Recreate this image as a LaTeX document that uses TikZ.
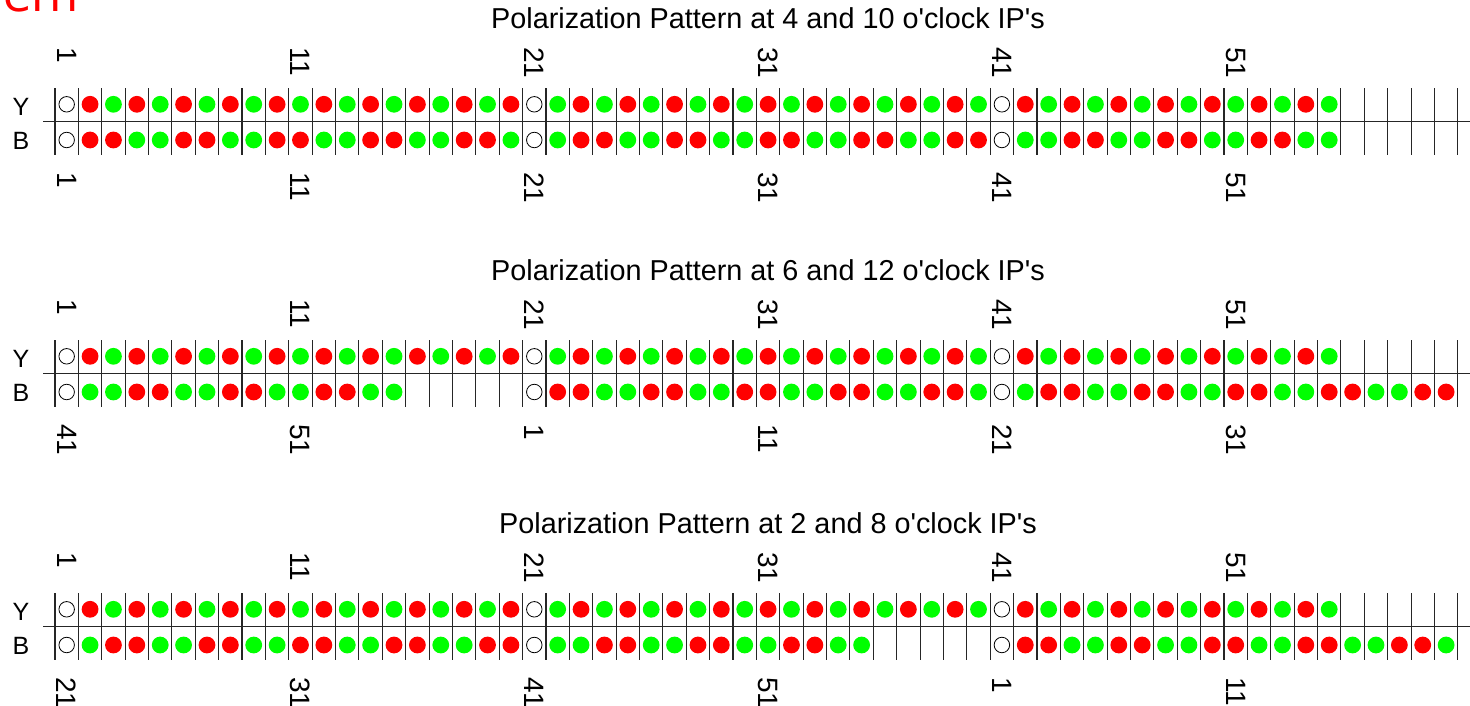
\documentclass[tikz,border=0pt]{standalone}
\usepackage{fontspec}
\setmainfont{Liberation Sans}
\newfontfamily\handfont{DejaVu Sans}
\definecolor{dotred}{RGB}{255,0,0}
\definecolor{dotgreen}{RGB}{0,255,0}
\definecolor{handred}{RGB}{255,0,0}
\tikzset{
  gridline/.style={line width=1.1pt, draw=black!85},
  dotR/.style={circle, fill=dotred, inner sep=0pt, minimum size=16.8pt},
  dotG/.style={circle, fill=dotgreen, inner sep=0pt, minimum size=16.8pt},
  dotO/.style={circle, draw=black, line width=0.8pt, inner sep=0pt, minimum size=15.5pt},
  titletext/.style={anchor=base, inner sep=0pt, font=\fontsize{28.8}{30}\selectfont},
  rowlab/.style={inner sep=0pt, font=\fontsize{25}{25}\selectfont},
  numlab/.style={rotate=-90, anchor=west, inner sep=0pt, font=\fontsize{28}{28}\selectfont},
}
\def\codeR{R}\def\codeG{G}\def\codeo{o}
\newcommand\bucket[4]{\edef\cc{#2}%
  \ifx\cc\codeR \node[dotR] (#1) at ({55+23.38*(#3-0.5)},{#4}) {};\fi
  \ifx\cc\codeG \node[dotG] (#1) at ({55+23.38*(#3-0.5)},{#4}) {};\fi
  \ifx\cc\codeo \node[dotO] (#1) at ({55+23.38*(#3-0.5)},{#4}) {};\fi}
% segments
\def\YsegA{R,G,R,G,R,G,R,G,R,G,R,G,R,G,R,G,R,G,R}
\def\YsegB{G,R,G,R,G,R,G,R,G,R,G,R,G,R,G,R,G,R,G}
\def\YsegC{R,G,R,G,R,G,R,G,R,G,R,G,R,G}
\def\BsegA{R,R,G,G,R,R,G,G,R,R,G,G,R,R,G,G,R,R,G}
\def\BsegB{G,R,R,G,G,R,R,G,G,R,R,G,G,R,R,G,G,R,R}
\def\BsegC{G,G,R,R,G,G,R,R,G,G,R,R,G,G}
\def\Empty{N,N,N,N,N}
\edef\YRow{o,\YsegA,o,\YsegB,o,\YsegC,\Empty}
\edef\BOne{o,\BsegA,o,\BsegB,o,\BsegC,\Empty}
\edef\BTwo{o,\BsegC,\Empty,o,\BsegA,o,\BsegB}
\edef\BThree{o,\BsegB,o,\BsegC,\Empty,o,\BsegA}
\newcommand\drawpanel[5]{%
  \node[titletext] (#1title) at (768,{28.3+#2}) {Polarization Pattern at #3 o\textquotesingle clock IP\textquotesingle s};
  \node[rowlab] (#1Ylab) at (21,{106.5+#2}) {Y};
  \node[rowlab] (#1Blab) at (21,{140.7+#2}) {B};
  \foreach \k in {0,...,60}{\draw[gridline] ({55+23.38*\k},{88.3+#2}) -- ({55+23.38*\k},{155+#2});}
  \draw[gridline] (43,{121.7+#2}) -- (1470,{121.7+#2});
  \foreach \c [count=\i] in \YRow {\bucket{#1y\i}{\c}{\i}{104.3+#2}}
  \foreach \c [count=\i] in #4 {\bucket{#1b\i}{\c}{\i}{140+#2}}
  \foreach \n in {1,11,21,31,41,51}{\node[numlab] (#1t\n) at ({55+23.38*(\n-0.5)},{47+#2}) {\n};}
  \foreach \n [count=\j] in {#5}{\node[numlab] (#1u\j) at ({55+23.38*(10*\j-9.5)},{172+#2}) {\n};}
}
\begin{document}
\begin{tikzpicture}[x=1pt,y=-1pt]
\useasboundingbox (0,0) rectangle (1470,706);
\clip (0,0) rectangle (1470,706);
\node[anchor=base west, inner sep=0pt, text=handred, font=\handfont\fontsize{46}{46}\selectfont] (ern) at (3,12) {ern};
\drawpanel{pa}{0}{4 and 10}{\BOne}{1,11,21,31,41,51}
\drawpanel{pb}{252}{6 and 12}{\BTwo}{41,51,1,11,21,31}
\drawpanel{pc}{505}{2 and 8}{\BThree}{21,31,41,51,1,11}
\end{tikzpicture}
\end{document}
